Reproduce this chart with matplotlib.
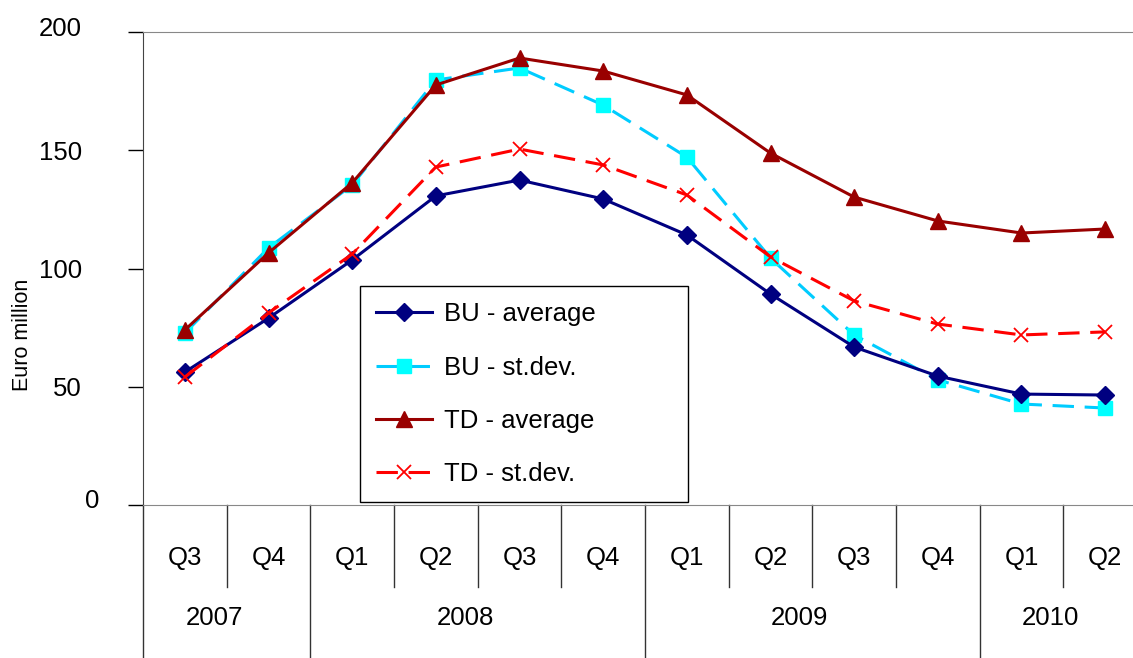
import matplotlib
matplotlib.use("Agg")
import matplotlib.pyplot as plt
from matplotlib.lines import Line2D
from matplotlib.transforms import ScaledTranslation

plt.rcParams['font.family'] = ['Liberation Sans', 'DejaVu Sans']

quarters = ["Q3", "Q4", "Q1", "Q2", "Q3", "Q4", "Q1", "Q2", "Q3", "Q4", "Q1", "Q2"]
years = ["2007", "2008", "2009", "2010"]
year_quarter_counts = [2, 4, 4, 2]

bu_avg = [56.2, 79.0, 103.6, 130.7, 137.4, 129.4, 114.2, 89.2, 66.8, 54.5, 46.9, 46.5]
bu_sd = [72.7, 108.7, 135.3, 179.7, 184.8, 169.1, 147.1, 104.4, 71.9, 52.9, 42.7, 41.0]
td_avg = [74.0, 106.6, 136.2, 177.6, 189.0, 183.5, 173.4, 148.8, 130.2, 120.1, 115.0, 116.7]
td_sd = [54.1, 81.2, 106.1, 142.9, 150.5, 143.8, 131.1, 104.9, 86.3, 76.5, 71.9, 73.2]

W, H = 1133, 658
fig = plt.figure(figsize=(W / 100, H / 100), dpi=100)
ax = fig.add_axes([143 / W, (H - 505) / H, 1004 / W, 473 / H])

x = list(range(len(quarters)))
ax.plot(x, bu_avg, color="#000080", lw=2.2, marker="D", ms=9, label="BU - average", zorder=3)
ax.plot(x, bu_sd, color="#00CCFF", lw=2.2, ls=(0, (7, 3.5)), marker="s", ms=10.5,
        mfc="#00FFFF", mec="#00FFFF", label="BU - st.dev.", zorder=2)
ax.plot(x, td_avg, color="#990000", lw=2.2, marker="^", ms=11, label="TD - average", zorder=4)
ax.plot(x, td_sd, color="#FF0000", lw=2.2, ls=(0, (7, 3.5)), marker="x", ms=10, mew=1.3,
        label="TD - st.dev.", zorder=3)

ax.set_xlim(-0.5, len(quarters) - 0.5)
ax.set_ylim(0, 200)
ax.set_yticks([0, 50, 100, 150, 200])
ax.tick_params(axis="y", direction="out", length=11, width=1, pad=33, labelsize=18.5, colors="#000000")
ax.set_xticks([])
for s in ["top", "bottom"]:
    ax.spines[s].set_color("#888888")
ax.spines["left"].set_color("#444444")
ax.spines["right"].set_visible(False)
ax.set_ylabel("Euro million", fontsize=15.5)
ax.yaxis.set_label_coords(-0.11, 0.359)

# nudge the "0" and "200" labels as in the reference
ticks = ax.yaxis.get_major_ticks()
lab0 = ticks[0].label1
lab0.set_transform(lab0.get_transform() + ScaledTranslation(0.17, 0.07, fig.dpi_scale_trans))
lab200 = ticks[-1].label1
lab200.set_transform(lab200.get_transform() + ScaledTranslation(0, 0.05, fig.dpi_scale_trans))

# category axis
tr = ax.get_xaxis_transform()
for i, q in enumerate(quarters):
    ax.text(i, -0.113, q, transform=tr, ha="center", va="center", fontsize=18.5)
year_starts = []
pos = 0
for c in year_quarter_counts:
    year_starts.append(pos)
    pos += c
for i in range(len(quarters)):
    xb = i - 0.5
    y1 = -0.324 if i in year_starts else -0.173
    ax.add_line(Line2D([xb, xb], [0, y1], transform=tr, color="#333333", lw=1, clip_on=False))
for y, s, c in zip(years, year_starts, year_quarter_counts):
    cx = s - 0.5 + c / 2 - 0.15
    ax.text(cx, -0.238, y, transform=tr, ha="center", va="center", fontsize=18.5)

leg = ax.legend(loc="lower left", bbox_to_anchor=(0.216, 0.006, 0.327, 0.455), mode="expand",
                fontsize=18.5, frameon=True, fancybox=False, edgecolor="#000000", framealpha=1,
                borderpad=0.62, labelspacing=1.14, handlelength=2.2, handletextpad=0.47,
                borderaxespad=0)
leg.get_frame().set_linewidth(1.0)

fig.savefig("out.png", dpi=100)
